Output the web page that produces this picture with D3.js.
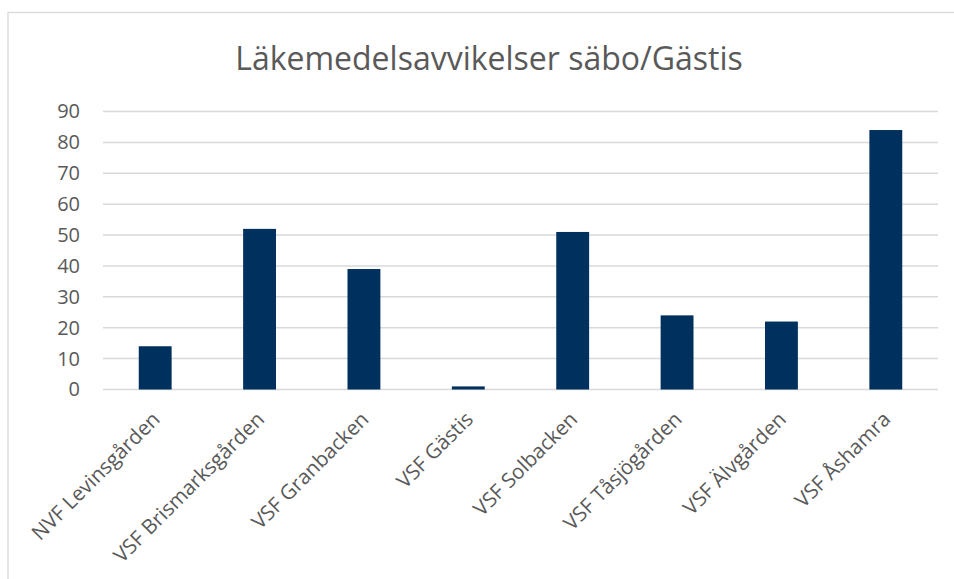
<!DOCTYPE html>
<html>
<head>
<meta charset="utf-8">
<script src="https://cdn.jsdelivr.net/npm/d3@7"></script>
<style>
  body { margin: 0; background: #fff; }
  text { font-family: "Open Sans", sans-serif; fill: #595959; }
</style>
</head>
<body>
<div id="chart"></div>
<script>
// Data
const categories = [
  "NVF Levinsgården",
  "VSF Brismarksgården",
  "VSF Granbacken",
  "VSF Gästis",
  "VSF Solbacken",
  "VSF Tåsjögården",
  "VSF Älvgården",
  "VSF Åshamra",
];
const values = [14, 52, 39, 1, 51, 24, 22, 84];
const yTicks = [0, 10, 20, 30, 40, 50, 60, 70, 80, 90];
const title = "Läkemedelsavvikelser säbo/Gästis";

const barColor = "#00305e";
const gridColor = "#d9d9d9";

// Dimensions
const width = 954;
const height = 579;
const plot = { left: 103, right: 938, top: 111.5, bottom: 389.5 };

const svg = d3
  .select("#chart")
  .append("svg")
  .attr("width", width)
  .attr("height", height);

// Chart area border
svg
  .append("rect")
  .attr("x", 8)
  .attr("y", 12.5)
  .attr("width", width + 20)
  .attr("height", height + 20)
  .attr("fill", "none")
  .attr("stroke", gridColor)
  .attr("stroke-width", 1.3);

// Scales
const x = d3
  .scaleBand()
  .domain(categories)
  .range([plot.left, plot.right])
  .paddingInner(0)
  .paddingOuter(0);
const barWidth = x.bandwidth() * 0.315;

const y = d3.scaleLinear().domain([0, 90]).range([plot.bottom, plot.top]);

// Gridlines
svg
  .append("g")
  .selectAll("line")
  .data(yTicks)
  .join("line")
  .attr("x1", plot.left)
  .attr("x2", plot.right)
  .attr("y1", (d) => y(d))
  .attr("y2", (d) => y(d))
  .attr("stroke", gridColor)
  .attr("stroke-width", 1.5);

// Y axis labels
const yAxis = d3.axisLeft(y).tickValues(yTicks).tickSize(0).tickPadding(0);
const yG = svg
  .append("g")
  .attr("transform", `translate(${plot.left - 23},0)`)
  .call(yAxis);
yG.select(".domain").remove();
yG.selectAll("text")
  .attr("font-size", 20)
  .attr("font-family", "Open Sans, sans-serif")
  .attr("fill", "#595959");

// Bars
svg
  .append("g")
  .selectAll("rect")
  .data(values)
  .join("rect")
  .attr("x", (d, i) => x(categories[i]) + x.bandwidth() / 2 - barWidth / 2)
  .attr("y", (d) => y(d))
  .attr("width", barWidth)
  .attr("height", (d) => y(0) - y(d))
  .attr("fill", barColor);

// X labels, rotated
svg
  .append("g")
  .selectAll("text")
  .data(categories)
  .join("text")
  .attr("text-anchor", "end")
  .attr("font-size", 20.5)
  .attr(
    "transform",
    (d) => `translate(${x(d) + x.bandwidth() / 2 + 6},${plot.bottom + 31}) rotate(-45)`
  )
  .text((d) => d);

// Title
svg
  .append("text")
  .attr("x", 489)
  .attr("y", 70)
  .attr("text-anchor", "middle")
  .attr("font-size", 32)
  .text(title);
</script>
</body>
</html>
